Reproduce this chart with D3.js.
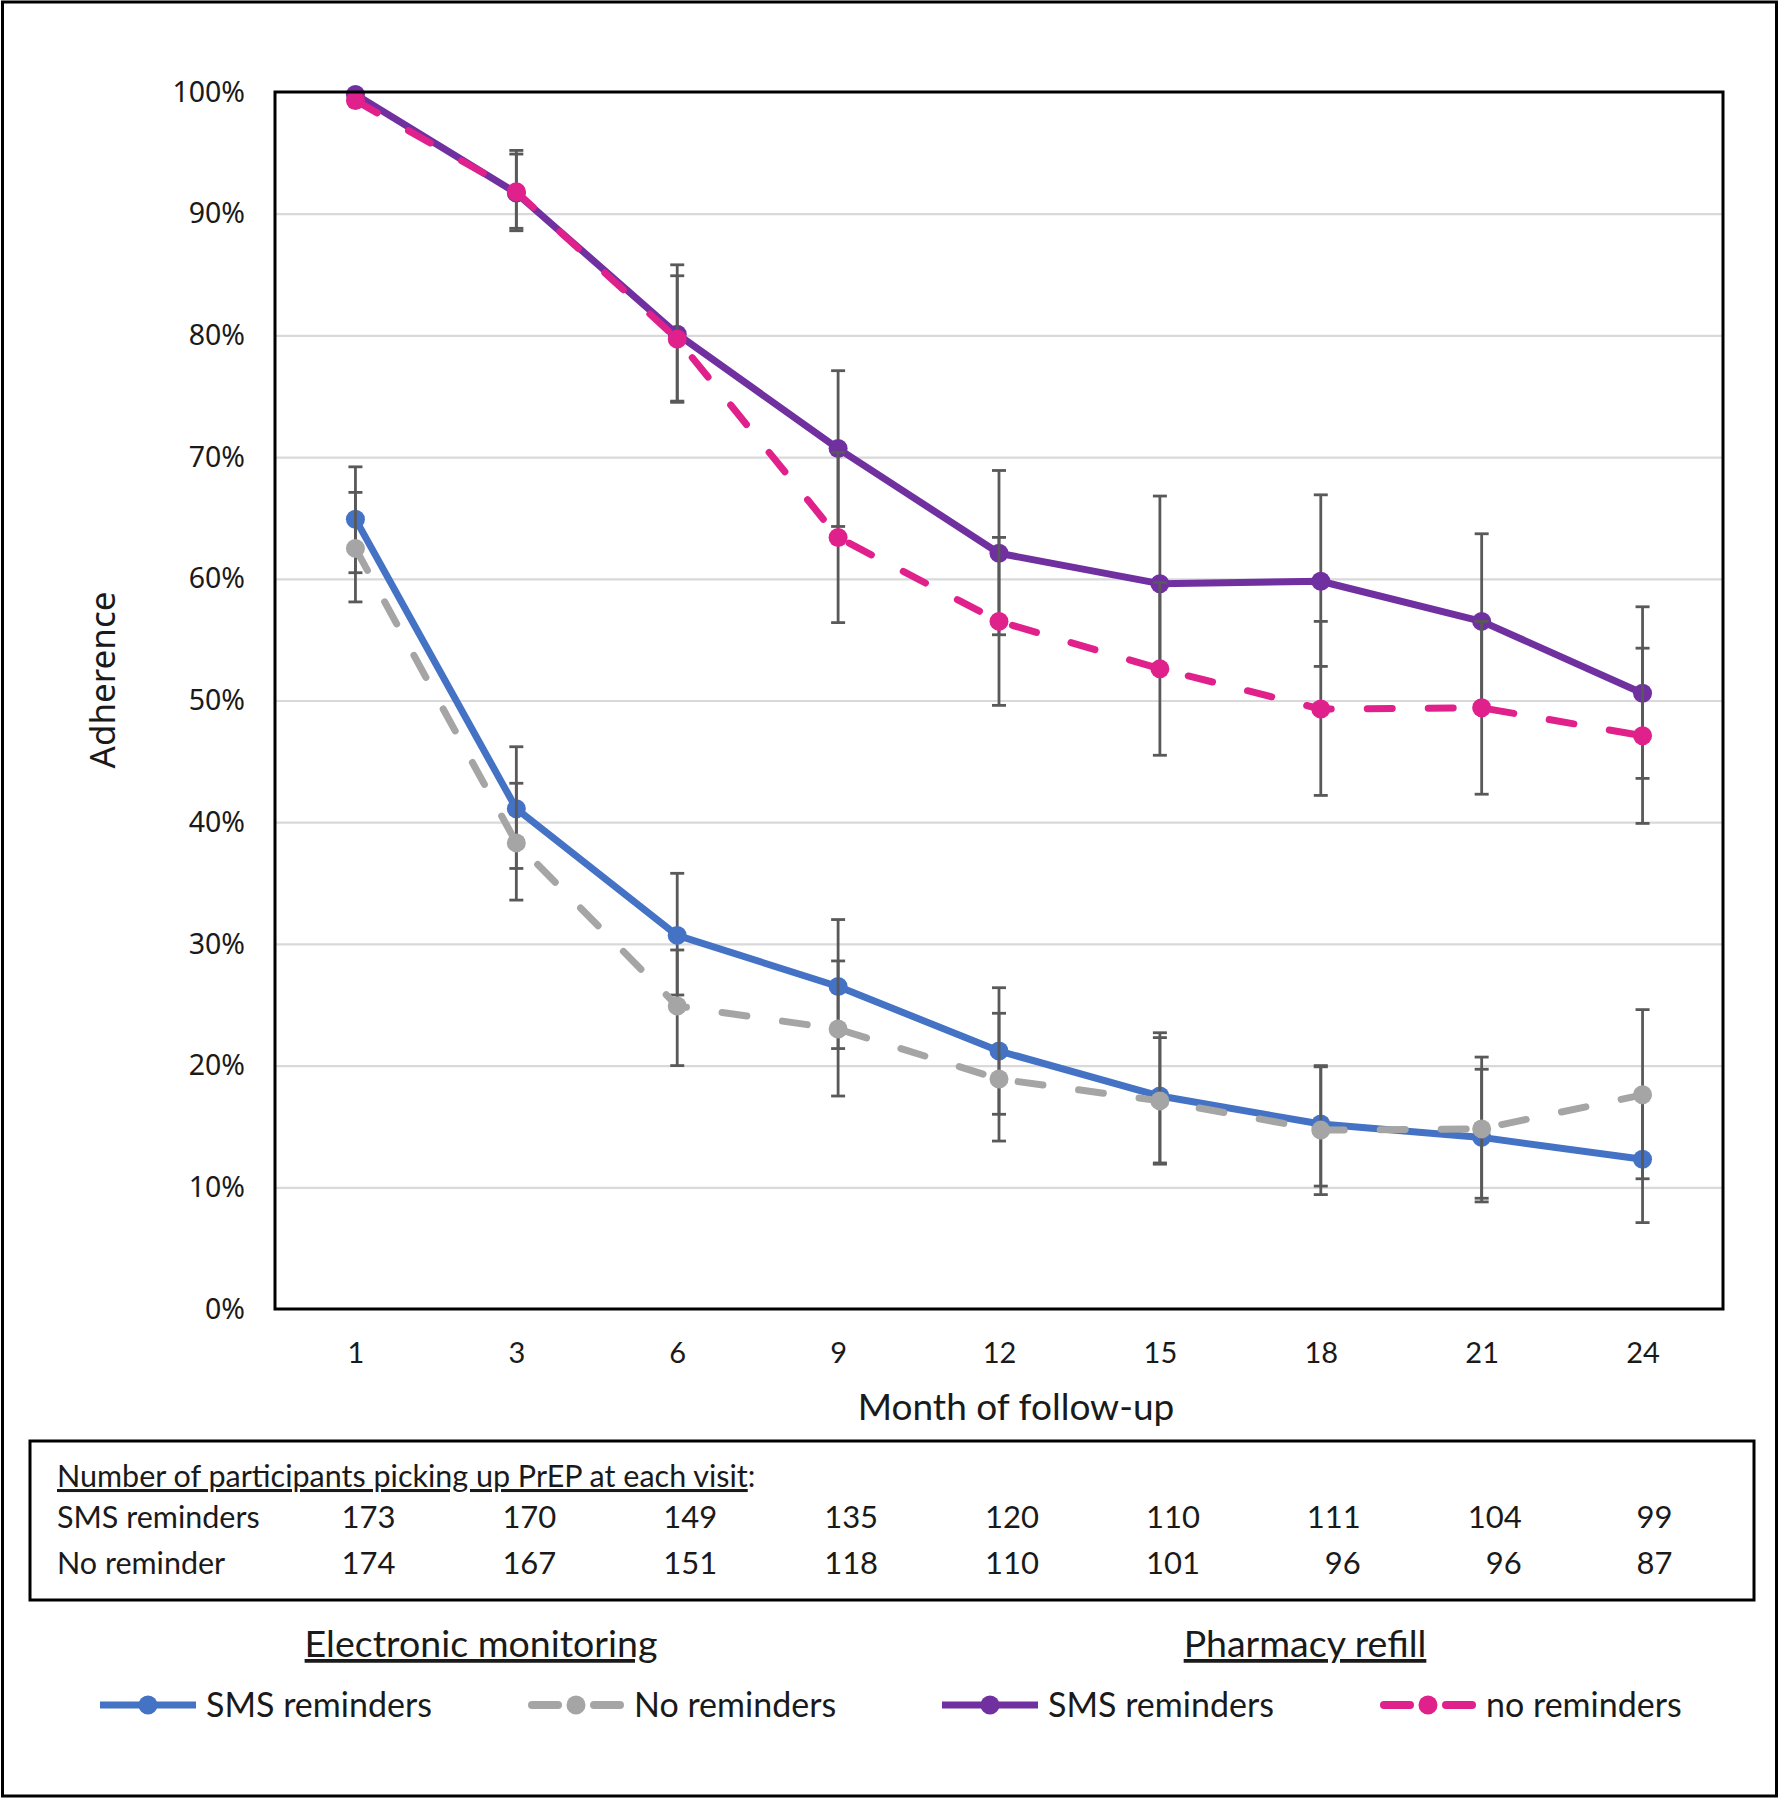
<!DOCTYPE html>
<html>
<head>
<meta charset="utf-8">
<script src="https://cdn.jsdelivr.net/npm/d3@7"></script>
<style>
  html, body { margin: 0; padding: 0; background: #fff; }
  svg { display: block; }
</style>
</head>
<body>
<script>
// ---------- data ----------
const months = [1, 3, 6, 9, 12, 15, 18, 21, 24];
const yTicks = [0, 0.1, 0.2, 0.3, 0.4, 0.5, 0.6, 0.7, 0.8, 0.9, 1.0];

// Electronic monitoring – SMS reminders (%)
const emSms    = [64.9, 41.1, 30.7, 26.5, 21.2, 17.5, 15.2, 14.1, 12.3];
const emSmsLo  = [60.5, 36.2, 25.8, 21.4, 16.0, 12.0, 10.1,  9.1,  7.1];
const emSmsHi  = [69.2, 46.2, 35.8, 32.0, 26.4, 22.7, 19.9, 19.7, 17.5];
// Electronic monitoring – No reminders (%)
const emNo     = [62.5, 38.3, 24.9, 23.0, 18.9, 17.1, 14.7, 14.8, 17.6];
const emNoLo   = [58.1, 33.6, 20.0, 17.5, 13.8, 11.9,  9.4,  8.8, 10.7];
const emNoHi   = [67.1, 43.2, 29.5, 28.6, 24.3, 22.3, 20.0, 20.7, 24.6];
// Pharmacy refill – SMS reminders (%)
const prSms    = [99.8, 91.7, 80.1, 70.7, 62.1, 59.6, 59.8, 56.5, 50.6];
const prSmsLo  = [null, 88.6, 74.6, 64.3, 55.4, 52.4, 52.8, 49.3, 43.6];
const prSmsHi  = [null, 94.9, 84.9, 77.1, 68.9, 66.8, 66.9, 63.7, 57.7];
// Pharmacy refill – no reminders (%)
const prNo     = [99.3, 91.8, 79.7, 63.4, 56.5, 52.6, 49.3, 49.4, 47.1];
const prNoLo   = [null, 88.8, 74.5, 56.4, 49.6, 45.5, 42.2, 42.3, 39.9];
const prNoHi   = [null, 95.2, 85.8, 70.4, 63.4, 59.7, 56.5, 56.5, 54.3];

// Participants picking up PrEP
const smsCounts = [173, 170, 149, 135, 120, 110, 111, 104, 99];
const noCounts  = [174, 167, 151, 118, 110, 101, 96, 96, 87];

const tableHeading = "Number of participants picking up PrEP at each visit";
const rowLabels = ["SMS reminders", "No reminder"];
const groupTitles = ["Electronic monitoring", "Pharmacy refill"];
const legendLabels = ["SMS reminders", "No reminders", "SMS reminders", "no reminders"];

// ---------- styles ----------
const C_BLUE = "#4472c4", C_GRAY = "#a5a5a5", C_PURPLE = "#7030a0", C_PINK = "#e0218c";
const ERR = "#595959";
const TXT = "#1a1a1a";
const F_SEGOE = "'Noto Sans', 'Open Sans', sans-serif";
const F_CAL = "Lato, 'Liberation Sans', sans-serif";

const series = [
  { vals: emSms, lo: emSmsLo, hi: emSmsHi, color: C_BLUE, dash: null },
  { vals: emNo,  lo: emNoLo,  hi: emNoHi,  color: C_GRAY, dash: "25,36" },
  { vals: prSms, lo: prSmsLo, hi: prSmsHi, color: C_PURPLE, dash: null },
  { vals: prNo,  lo: prNoLo,  hi: prNoHi,  color: C_PINK, dash: "25,36" }
];

// ---------- layout ----------
const W = 1781, H = 1800;
const plot = { left: 275, right: 1723, top: 92, bottom: 1309 };

const svg = d3.select("body").append("svg")
  .attr("width", W).attr("height", H)
  .attr("viewBox", `0 0 ${W} ${H}`);

svg.append("rect").attr("x", 0).attr("y", 0).attr("width", W).attr("height", H).attr("fill", "#fff");
// outer frame
svg.append("rect").attr("x", 2.5).attr("y", 2).attr("width", 1774).attr("height", 1794)
  .attr("fill", "none").attr("stroke", "#000").attr("stroke-width", 3);

const x = d3.scalePoint().domain(months).range([plot.left, plot.right]).padding(0.5);
const y = d3.scaleLinear().domain([0, 1]).range([plot.bottom, plot.top]);

// gridlines
svg.append("g")
  .attr("transform", `translate(${plot.left},0)`)
  .call(d3.axisLeft(y).tickValues(yTicks.filter(t => t > 0 && t < 1))
        .tickSize(-(plot.right - plot.left)).tickFormat(""))
  .call(g => g.select(".domain").remove())
  .call(g => g.selectAll("line").attr("stroke", "#d9d9d9").attr("stroke-width", 2.2));

// y axis labels
svg.append("g")
  .attr("transform", `translate(${plot.left},0)`)
  .call(d3.axisLeft(y).tickValues(yTicks).tickFormat(d3.format(".0%")).tickSize(0).tickPadding(30))
  .call(g => g.select(".domain").remove())
  .call(g => g.selectAll("text").attr("font-family", F_SEGOE).attr("font-size", 28.5).attr("fill", TXT));

// x axis labels
svg.append("g")
  .attr("transform", `translate(0,${plot.bottom})`)
  .call(d3.axisBottom(x).tickSize(0).tickPadding(33))
  .call(g => g.select(".domain").remove())
  .call(g => g.selectAll("text").attr("font-family", F_CAL).attr("font-size", 29).attr("fill", TXT));

// axis titles
svg.append("text")
  .attr("transform", `translate(103,680) rotate(-90)`)
  .attr("text-anchor", "middle").attr("dy", "0.35em")
  .attr("font-family", F_SEGOE).attr("font-size", 35).attr("fill", TXT)
  .text("Adherence");

svg.append("text")
  .attr("x", 1016).attr("y", 1420).attr("text-anchor", "middle")
  .attr("font-family", F_CAL).attr("font-size", 37).attr("fill", TXT)
  .text("Month of follow-up");

// ---------- series ----------
const dataOf = s => months.map((m, i) => ({ m, v: s.vals[i] / 100,
  lo: s.lo[i] == null ? null : s.lo[i] / 100, hi: s.hi[i] == null ? null : s.hi[i] / 100 }));

const line = d3.line().x(d => x(d.m)).y(d => y(d.v));

const gSeries = svg.append("g");
series.forEach(s => {
  const d = dataOf(s);
  const g = gSeries.append("g");
  // error bars
  const eb = g.append("g").selectAll("g").data(d.filter(p => p.lo != null)).join("g")
    .attr("stroke", ERR).attr("stroke-width", 2.8);
  eb.append("line").attr("x1", p => x(p.m)).attr("x2", p => x(p.m))
    .attr("y1", p => y(p.lo)).attr("y2", p => y(p.hi));
  eb.append("line").attr("x1", p => x(p.m) - 7).attr("x2", p => x(p.m) + 7)
    .attr("y1", p => y(p.lo)).attr("y2", p => y(p.lo));
  eb.append("line").attr("x1", p => x(p.m) - 7).attr("x2", p => x(p.m) + 7)
    .attr("y1", p => y(p.hi)).attr("y2", p => y(p.hi));
  // line
  g.append("path").datum(d).attr("d", line)
    .attr("fill", "none").attr("stroke", s.color).attr("stroke-width", 7)
    .attr("stroke-linejoin", "round")
    .attr("stroke-linecap", s.dash ? "round" : "butt")
    .attr("stroke-dasharray", s.dash);
  // markers
  g.selectAll("circle").data(d).join("circle")
    .attr("cx", p => x(p.m)).attr("cy", p => y(p.v)).attr("r", 9.5)
    .attr("fill", s.color);
});

// plot frame
svg.append("rect")
  .attr("x", plot.left).attr("y", plot.top)
  .attr("width", plot.right - plot.left).attr("height", plot.bottom - plot.top)
  .attr("fill", "none").attr("stroke", "#000").attr("stroke-width", 3);

// ---------- table ----------
svg.append("rect").attr("x", 30).attr("y", 1441).attr("width", 1724).attr("height", 159)
  .attr("fill", "none").attr("stroke", "#000").attr("stroke-width", 3);

const head = svg.append("text").attr("x", 57).attr("y", 1487)
  .attr("font-family", F_CAL).attr("font-size", 30.5).attr("fill", TXT);
head.append("tspan").attr("text-decoration", "underline").text(tableHeading);
head.append("tspan").text(":");

[smsCounts, noCounts].forEach((row, r) => {
  const by = 1528 + r * 46;
  svg.append("text").attr("x", 57).attr("y", by)
    .attr("font-family", F_CAL).attr("font-size", 30.5).attr("fill", TXT)
    .text(rowLabels[r]);
  svg.append("g").selectAll("text").data(row).join("text")
    .attr("x", (v, i) => x(months[i]) + (i === months.length - 1 ? 30 : 40)).attr("y", by)
    .attr("text-anchor", "end")
    .attr("font-family", F_CAL).attr("font-size", 31).attr("fill", TXT)
    .text(v => v);
});

// ---------- legend ----------
const titleX = [481, 1305];
groupTitles.forEach((t, i) => {
  svg.append("text").attr("x", titleX[i]).attr("y", 1657).attr("text-anchor", "middle")
    .attr("font-family", F_CAL).attr("font-size", 37.5).attr("fill", TXT)
    .attr("text-decoration", "underline").text(t);
});

const legendX = [100, 528, 942, 1380];
const legY = 1705;
series.forEach((s, i) => {
  const g = svg.append("g").attr("transform", `translate(${legendX[i]},${legY})`);
  if (s.dash) {
    g.append("line").attr("x1", 4).attr("x2", 30).attr("y1", 0).attr("y2", 0)
      .attr("stroke", s.color).attr("stroke-width", 8).attr("stroke-linecap", "round");
    g.append("line").attr("x1", 66).attr("x2", 92).attr("y1", 0).attr("y2", 0)
      .attr("stroke", s.color).attr("stroke-width", 8).attr("stroke-linecap", "round");
  } else {
    g.append("line").attr("x1", 0).attr("x2", 96).attr("y1", 0).attr("y2", 0)
      .attr("stroke", s.color).attr("stroke-width", 7);
  }
  g.append("circle").attr("cx", 48).attr("cy", 0).attr("r", 9.5).attr("fill", s.color);
  g.append("text").attr("x", 106).attr("y", 12)
    .attr("font-family", F_CAL).attr("font-size", 34).attr("fill", TXT)
    .text(legendLabels[i]);
});
</script>
</body>
</html>
